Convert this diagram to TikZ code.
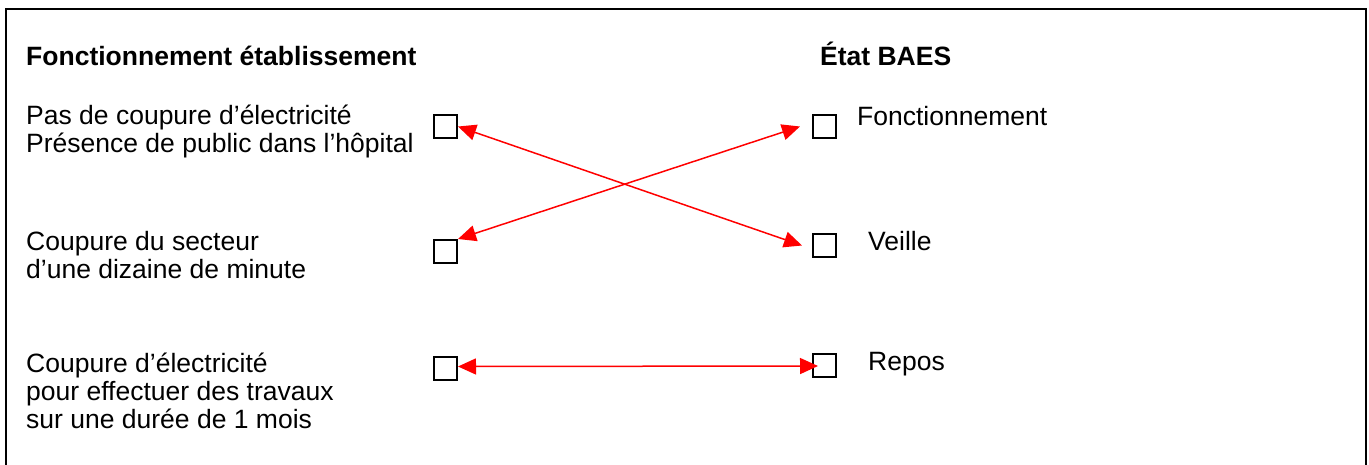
\documentclass[tikz,border=0pt]{standalone}
\usepackage{fontspec}
\setmainfont{Liberation Sans}
\usetikzlibrary{arrows.meta}
\begin{document}
\begin{tikzpicture}[x=1pt,y=-1pt,
  chk/.style={draw=black,line width=2pt,minimum size=23pt,inner sep=0pt},
  lbl/.style={anchor=base west,inner sep=0pt,align=left,font=\fontsize{26.5}{27.8}\selectfont},
  ttl/.style={anchor=base west,inner sep=0pt,font=\fontsize{26.5}{27.8}\selectfont\bfseries},
  arr/.style={red,line width=1.5pt,{Triangle[length=18pt,width=16pt]}-{Triangle[length=18pt,width=16pt]}}]
\useasboundingbox (0,0) rectangle (1369,464);
\draw[line width=2pt] (6,480) -- (6,9) -- (1366,9) -- (1366,480);
% titles
\node[ttl] (t1) at (26,65) {Fonctionnement établissement};
\node[ttl] (t2) at (820,65) {État BAES};
% left labels (anchor on last line baseline)
\node[lbl] (a1) at (26,152) {Pas de coupure d’électricité\\Présence de public dans l’hôpital};
\node[lbl] (a2) at (26,278) {Coupure du secteur\\d’une dizaine de minute};
\node[lbl] (a3) at (26,428) {Coupure d’électricité\\pour effectuer des travaux\\sur une durée de 1 mois};
% right labels
\node[lbl] (b1) at (857,125) {Fonctionnement};
\node[lbl] (b2) at (868,250) {Veille};
\node[lbl] (b3) at (868,370) {Repos};
% boxes
\node[chk] (l1) at (445.5,126.5) {};
\node[chk] (l2) at (445.5,251.5) {};
\node[chk] (l3) at (445.5,368.5) {};
\node[chk] (r1) at (824.5,126.5) {};
\node[chk] (r2) at (824.5,245.5) {};
\node[chk] (r3) at (824.5,365) {};
% connectors
\draw[arr] (l1.east) -- ([xshift=-10pt]r2.west);
\draw[arr] (l2.north east) -- ([xshift=-12pt]r1.west);
\draw[arr] ([yshift=2pt]l3.east) -- ([xshift=6pt,yshift=-1pt]r3.west);
\end{tikzpicture}
\end{document}
